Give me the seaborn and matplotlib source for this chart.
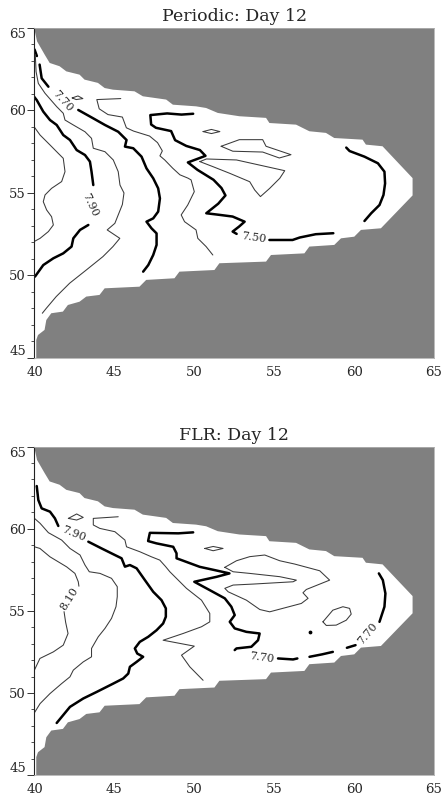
import matplotlib
matplotlib.use("Agg")
import matplotlib.pyplot as plt
import seaborn as sns

# ---------------- data (lon, lat) ----------------
x_ticks = [40, 45, 50, 55, 60, 65]
y_ticks = [45, 50, 55, 60, 65]
titles = ["Periodic: Day 12", "FLR: Day 12"]

# ocean domain (white) outline, shared by both panels
domain_x = [40.0, 40.16, 40.64, 40.95, 41.57, 41.99, 42.82, 43.13, 43.97, 44.39, 44.91, 46.26,
            46.78, 48.24, 48.66, 50.11, 50.74, 51.47, 52.82, 54.49, 54.70, 56.37, 57.2, 58.24,
            58.76, 60.53, 60.74, 61.78, 63.66, 63.66, 61.68, 60.43, 60.01, 59.18, 58.76, 57.2,
            56.89, 54.8, 54.49, 51.57, 51.26, 49.07, 48.76, 46.99, 46.57, 44.39, 44.07, 43.24,
            42.82, 42.09, 41.78, 41.05, 40.74, 40.63, 40.22, 40.11, 40.11, 40.0]
domain_y = [64.9, 64.19, 63.38, 62.88, 62.68, 62.37, 62.17, 61.87, 61.67, 61.36, 61.26, 61.16,
            60.86, 60.66, 60.35, 60.25, 60.15, 59.85, 59.65, 59.55, 59.24, 59.14, 58.74, 58.64,
            58.33, 58.23, 57.93, 57.83, 55.9, 54.85, 52.86, 52.76, 52.35, 52.25, 51.85, 51.75,
            51.34, 51.24, 50.84, 50.74, 50.33, 50.23, 49.83, 49.73, 49.32, 49.22, 48.82, 48.72,
            48.41, 48.21, 47.81, 47.71, 47.3, 46.7, 46.39, 46.09, 45.0, 45.0]

# ---- Periodic panel: contour polylines ----
per_thick_79_corner = [(40.0, 63.7), (40.15, 63.3)]
per_thick_79_a = [(39.97, 60.84), (40.14, 60.63), (40.55, 59.93), (40.97, 59.42), (41.39, 59.12),
                  (41.8, 58.51), (42.22, 58.21), (42.64, 57.6), (43.16, 57.3), (43.47, 56.9),
                  (43.57, 56.29), (43.68, 55.48)]
per_thick_79_b = [(43.37, 53.06), (42.85, 52.76), (42.43, 52.25), (42.32, 51.75), (41.8, 51.34),
                  (41.18, 51.04), (40.55, 50.63), (40.03, 49.93)]
per_thick_77_a = [(40.32, 62.78), (40.45, 61.95), (40.87, 61.44)]
per_thick_77_b = [(42.74, 60.03), (43.68, 59.52), (44.41, 59.12), (45.24, 58.71), (45.76, 58.21),
                  (45.66, 57.81), (46.18, 57.71), (46.7, 57.2), (47.01, 56.49), (47.43, 55.89),
                  (47.74, 55.28), (47.85, 54.67), (47.74, 53.87), (47.43, 53.46), (47.01, 53.26),
                  (47.32, 52.86), (47.64, 52.55), (47.64, 51.85), (47.43, 51.24), (47.12, 50.63),
                  (46.8, 50.23)]
per_thick_75_a = [(49.93, 59.8), (49.2, 59.75), (48.3, 59.82), (47.25, 59.72), (47.3, 59.15),
                  (47.6, 58.95), (48.55, 58.75), (48.8, 58.2), (49.5, 57.85), (50.35, 57.6),
                  (50.7, 57.25), (49.6, 56.85), (50.2, 56.4), (51.2, 55.8), (51.7, 55.3),
                  (51.95, 54.85), (51.5, 54.35), (50.75, 53.77), (51.6, 53.67), (52.4, 53.57),
                  (53.15, 53.26), (52.8, 52.96), (52.4, 52.66), (52.65, 52.52)]
per_thick_75_b = [(54.7, 52.15), (56.15, 52.15), (56.6, 52.3), (57.6, 52.5), (58.7, 52.56)]
per_thick_right = [(59.51, 57.75), (59.72, 57.54), (60.65, 57.2), (61.49, 56.8), (61.9, 56.29),
                   (61.94, 55.58), (61.84, 54.88), (61.59, 54.27), (61.07, 53.77), (60.65, 53.3)]
per_thin_80 = [(39.97, 59.02), (40.35, 58.51), (40.97, 57.91), (41.49, 57.4), (41.8, 57.1),
               (41.91, 56.29), (41.7, 55.69), (41.07, 55.28), (40.66, 54.88), (40.55, 54.47),
               (40.76, 53.97), (41.07, 53.56), (41.18, 53.06), (40.87, 52.66), (40.35, 52.25),
               (39.97, 52.05)]
per_thin_78 = [(40.05, 63.4), (40.1, 62.35), (40.24, 61.64), (40.66, 61.04), (41.39, 60.23),
               (41.8, 59.83), (41.91, 59.42), (42.43, 59.12), (43.16, 58.71), (43.57, 58.31),
               (43.68, 57.71), (44.41, 57.5), (44.93, 57.0), (45.24, 56.29), (45.35, 55.48),
               (45.6, 55.0), (45.5, 54.3), (45.03, 53.16), (44.55, 52.76), (45.34, 52.25),
               (44.91, 51.75), (44.28, 51.14), (43.24, 50.33), (42.2, 49.53), (41.36, 48.72),
               (40.74, 48.01), (40.49, 47.71)]
per_thin_76 = [(45.4, 60.72), (43.9, 60.66), (44.05, 60.1), (44.6, 59.75), (45.5, 59.6),
               (45.75, 58.95), (46.2, 58.75), (47.2, 58.45), (47.7, 58.05), (48.0, 57.55),
               (47.85, 57.25), (48.15, 57.0), (48.65, 56.5), (49.1, 56.1), (49.6, 55.9),
               (49.8, 55.79), (50.0, 55.08), (49.59, 54.27), (49.18, 53.67), (49.39, 53.26),
               (50.11, 52.76), (50.22, 52.25), (50.74, 51.75), (51.16, 51.24)]
per_thin_e = [(51.68, 57.83), (52.82, 58.23), (54.28, 58.23), (54.49, 57.83), (56.05, 57.32),
              (55.32, 57.12), (54.28, 57.48), (52.41, 57.53), (51.68, 57.83)]
per_thin_f = [(50.35, 56.9), (50.76, 57.06), (52.64, 57.0), (55.66, 56.35), (55.35, 55.89),
              (54.72, 55.28), (54.14, 54.78), (53.78, 55.18), (53.47, 55.68), (52.22, 56.19),
              (51.18, 56.59), (50.35, 56.9)]
per_thin_g = [(50.55, 58.72), (51.07, 58.85), (51.6, 58.72), (51.07, 58.6), (50.55, 58.72)]
per_thin_h = [(42.36, 60.76), (42.72, 60.88), (43.03, 60.72), (42.61, 60.66), (42.36, 60.76)]

per_label_text = ["7.70", "7.90", "7.50"]
per_label_x = [41.78, 43.45, 53.7]
per_label_y = [60.58, 54.3, 52.3]
per_label_rot = [-48, -65, -8]

# ---- FLR panel: contour polylines ----
flr_thick_79_a = [(40.14, 62.6), (40.24, 61.75), (40.45, 61.24), (40.97, 61.04), (41.28, 60.63),
                  (41.49, 60.17)]
flr_thick_79_b = [(43.37, 59.21), (44.2, 58.8), (45.03, 58.4), (45.45, 58.2), (45.66, 57.69),
                  (45.97, 57.79), (46.39, 57.59), (46.91, 56.87), (47.43, 56.16), (47.95, 55.65),
                  (48.22, 55.15), (48.22, 54.64), (48.05, 54.23), (47.64, 53.82), (47.12, 53.42),
                  (46.59, 53.11), (46.28, 52.71), (46.43, 52.4), (46.8, 52.2), (46.39, 51.89),
                  (45.97, 51.59), (45.87, 51.18), (45.55, 50.88), (44.93, 50.57), (43.89, 50.06),
                  (43.05, 49.66), (42.22, 49.15), (41.39, 48.17)]
flr_thick_77_a = [(49.93, 59.78), (49.0, 59.72), (47.22, 59.75), (47.11, 59.25), (47.63, 59.11),
                  (48.68, 58.9), (48.89, 58.5), (48.89, 58.2), (49.2, 58.09), (50.34, 57.68),
                  (51.28, 57.48), (52.2, 57.28), (51.39, 57.07), (50.0, 56.77), (50.97, 56.26),
                  (51.91, 55.76), (52.32, 55.25), (52.53, 54.74), (52.22, 54.33), (52.53, 53.93),
                  (53.26, 53.72), (54.09, 53.62), (53.99, 53.21), (53.57, 52.81), (52.64, 52.71),
                  (52.53, 52.61)]
flr_thick_77_b = [(55.24, 52.1), (56.18, 52.04), (56.45, 52.1)]
flr_thick_77_c = [(57.21, 52.2), (58.0, 52.35), (58.67, 52.5)]
flr_thick_77_d = [(59.55, 52.75), (60.09, 52.91)]
flr_thick_77_e = [(61.59, 54.33), (61.9, 55.25), (61.96, 56.06), (61.8, 56.87), (61.55, 57.28)]
flr_thin_80 = [(40.0, 60.63), (40.35, 60.33), (40.87, 59.76), (41.7, 59.31), (42.22, 58.8),
               (42.85, 58.4), (43.16, 57.79), (43.43, 57.38), (44.1, 57.28), (44.82, 56.98),
               (45.18, 56.47), (45.18, 55.86), (45.1, 55.25), (44.82, 54.54), (44.41, 53.93),
               (43.99, 53.42), (43.57, 52.71), (43.57, 52.2), (43.05, 51.89), (42.43, 51.39),
               (42.22, 50.98), (41.7, 50.57), (40.97, 49.96), (40.35, 49.35), (40.0, 48.8)]
flr_thin_81_a = [(40.0, 58.9), (40.34, 58.8), (40.97, 58.29), (42.01, 57.68), (42.53, 57.28),
                 (42.74, 56.77), (42.78, 56.5)]
flr_thin_81_b = [(41.85, 54.95), (41.95, 54.3), (42.1, 53.62), (41.8, 52.91), (41.18, 52.5),
                 (40.34, 52.1), (40.0, 51.4)]
flr_thin_78 = [(45.24, 60.73), (43.68, 60.63), (43.68, 60.23), (44.09, 60.02), (45.03, 59.82),
               (45.66, 59.31), (45.76, 58.9), (46.59, 58.6), (47.32, 58.29), (47.84, 58.09),
               (48.2, 57.7), (48.47, 57.38), (49.51, 56.37), (50.45, 55.65), (50.97, 54.84),
               (50.97, 54.33), (50.45, 54.03), (49.3, 53.62), (48.05, 53.21), (50.0, 52.85),
               (49.2, 52.3), (49.72, 51.59), (50.55, 50.77)]
flr_thin_l = [(51.91, 57.65), (52.64, 58.05), (53.47, 58.3), (54.41, 58.4), (55.35, 58.05),
              (56.28, 57.85), (57.85, 57.44), (58.47, 56.87), (57.01, 56.3), (56.8, 56.1),
              (57.12, 55.76), (56.7, 55.45), (54.72, 54.94), (54.1, 55.08), (53.26, 55.65),
              (52.12, 56.16), (51.91, 56.37), (52.43, 56.57), (53.68, 56.63), (56.18, 56.77),
              (56.39, 56.87), (55.35, 57.08), (53.47, 57.28), (52.43, 57.38), (51.91, 57.65)]
flr_thin_m = [(58.05, 54.33), (58.67, 55.04), (59.3, 55.25), (59.72, 55.15), (59.82, 54.8),
              (59.51, 54.43), (58.88, 54.13), (58.26, 54.11), (58.05, 54.33)]
flr_thin_n = [(50.66, 58.8), (51.18, 58.92), (51.8, 58.8), (51.18, 58.66), (50.66, 58.8)]
flr_thin_o = [(42.12, 60.63), (42.64, 60.9), (43.05, 60.69), (42.64, 60.53), (42.12, 60.63)]
flr_dot = [(57.25, 53.72)]

flr_label_text = ["7.90", "8.10", "7.70", "7.70"]
flr_label_x = [42.45, 42.2, 54.2, 60.86]
flr_label_y = [59.7, 55.7, 52.12, 53.62]
flr_label_rot = [-22, 58, -8, 50]

# ---------------- drawing ----------------
sns.set_theme(style="white")
plt.rcParams["font.family"] = ["DejaVu Serif", "DejaVu Sans"]

LAND = "#808080"
THICK = dict(color="black", linewidth=1.8)
THIN = dict(color="#3a3a3a", linewidth=0.75)

fig = plt.figure(figsize=(4.41, 7.99), dpi=100)
ax_top = fig.add_axes([0.0782, 0.552, 0.9059, 0.413])
ax_bot = fig.add_axes([0.0782, 0.030, 0.9059, 0.411])


def draw_line(ax, pts, style):
    xs = [p[0] for p in pts]
    ys = [p[1] for p in pts]
    sns.lineplot(x=xs, y=ys, sort=False, estimator=None, ax=ax, solid_capstyle="round", **style)


def setup(ax, title):
    ax.set_facecolor(LAND)
    ax.fill(domain_x, domain_y, color="white", zorder=0.5, lw=0)
    ax.set_xlim(40, 65)
    ax.set_ylim(45, 65)
    ax.set_xticks(x_ticks)
    ax.set_yticks(y_ticks)
    ax.set_yticks(list(range(45, 66)), minor=True)
    ax.tick_params(axis="x", length=0, pad=6.0, labelsize=9.5)
    ax.tick_params(axis="y", which="major", direction="out", length=5, width=0.7, pad=1.2,
                   labelsize=9.5, left=True, color="#333333")
    ax.tick_params(axis="y", which="minor", direction="out", length=2.5, width=0.6,
                   left=True, color="#333333")
    for side in ["top", "right", "bottom"]:
        ax.spines[side].set_color("#b0b0b0")
        ax.spines[side].set_linewidth(0.6)
    ax.spines["left"].set_color("#222222")
    ax.spines["left"].set_linewidth(0.8)
    ax.set_title(title, fontsize=12.5, pad=5)
    ax.set_xlabel("")
    ax.set_ylabel("")
    labs = ax.get_yticklabels()
    labs[0].set_va("bottom")
    labs[-1].set_va("top")


def add_labels(ax, texts, xs, ys, rots):
    for t, x, y, r in zip(texts, xs, ys, rots):
        ax.text(x, y, t, rotation=r, ha="center", va="center", fontsize=8,
                rotation_mode="anchor", zorder=5)


# top panel
for pts in [per_thick_79_corner, per_thick_79_a, per_thick_79_b, per_thick_77_a, per_thick_77_b,
            per_thick_75_a, per_thick_75_b, per_thick_right]:
    draw_line(ax_top, pts, THICK)
for pts in [per_thin_80, per_thin_78, per_thin_76, per_thin_e, per_thin_f, per_thin_g, per_thin_h]:
    draw_line(ax_top, pts, THIN)
add_labels(ax_top, per_label_text, per_label_x, per_label_y, per_label_rot)
setup(ax_top, titles[0])

# bottom panel
for pts in [flr_thick_79_a, flr_thick_79_b, flr_thick_77_a, flr_thick_77_b, flr_thick_77_c,
            flr_thick_77_d, flr_thick_77_e]:
    draw_line(ax_bot, pts, THICK)
for pts in [flr_thin_80, flr_thin_81_a, flr_thin_81_b, flr_thin_78, flr_thin_l, flr_thin_m,
            flr_thin_n, flr_thin_o]:
    draw_line(ax_bot, pts, THIN)
ax_bot.scatter([p[0] for p in flr_dot], [p[1] for p in flr_dot], s=3, color="black", zorder=4)
add_labels(ax_bot, flr_label_text, flr_label_x, flr_label_y, flr_label_rot)
setup(ax_bot, titles[1])

fig.savefig("out.png", dpi=100)
